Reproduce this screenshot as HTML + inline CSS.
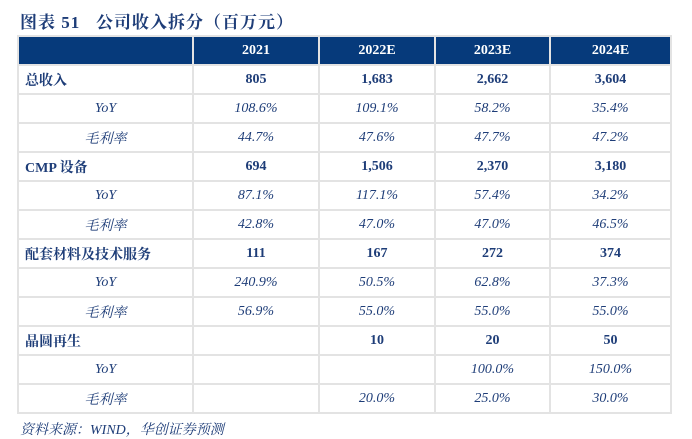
<!DOCTYPE html>
<html><head><meta charset="utf-8"><style>
body{margin:0;width:692px;height:434px;background:#fff;overflow:hidden;font-family:"Liberation Serif","Noto Serif CJK SC",serif;color:#1e3d78;position:relative}
.title{position:absolute;left:20px;top:8px;font-size:17px;font-weight:bold;letter-spacing:1px}
table{position:absolute;left:17px;top:35px;border-collapse:collapse;table-layout:fixed}
td{border:2px solid #e3e3e3;height:27px;padding:0;font-size:14px;text-align:center}
thead td{background:#063a7b;color:#fff;font-weight:bold;border-color:#e3e3e3}
td.l{text-align:left;padding-left:6px;font-weight:bold}
tr.s td{font-style:italic}
tr.b td{font-weight:bold}
.foot{position:absolute;left:20px;top:419px;font-size:14px;font-style:italic}
</style></head><body>
<div class="title">图表 51&nbsp;&nbsp;&nbsp;公司收入拆分（百万元）</div>
<table>
<colgroup><col style="width:175px"><col style="width:126px"><col style="width:116px"><col style="width:115px"><col style="width:121px"></colgroup>
<thead><tr><td></td><td>2021</td><td>2022E</td><td>2023E</td><td>2024E</td></tr></thead>
<tbody>
<tr class="b"><td class="l">总收入</td><td>805</td><td>1,683</td><td>2,662</td><td>3,604</td></tr>
<tr class="s"><td>YoY</td><td>108.6%</td><td>109.1%</td><td>58.2%</td><td>35.4%</td></tr>
<tr class="s"><td>毛利率</td><td>44.7%</td><td>47.6%</td><td>47.7%</td><td>47.2%</td></tr>
<tr class="b"><td class="l">CMP 设备</td><td>694</td><td>1,506</td><td>2,370</td><td>3,180</td></tr>
<tr class="s"><td>YoY</td><td>87.1%</td><td>117.1%</td><td>57.4%</td><td>34.2%</td></tr>
<tr class="s"><td>毛利率</td><td>42.8%</td><td>47.0%</td><td>47.0%</td><td>46.5%</td></tr>
<tr class="b"><td class="l">配套材料及技术服务</td><td>111</td><td>167</td><td>272</td><td>374</td></tr>
<tr class="s"><td>YoY</td><td>240.9%</td><td>50.5%</td><td>62.8%</td><td>37.3%</td></tr>
<tr class="s"><td>毛利率</td><td>56.9%</td><td>55.0%</td><td>55.0%</td><td>55.0%</td></tr>
<tr class="b"><td class="l">晶圆再生</td><td></td><td>10</td><td>20</td><td>50</td></tr>
<tr class="s"><td>YoY</td><td></td><td></td><td>100.0%</td><td>150.0%</td></tr>
<tr class="s"><td>毛利率</td><td></td><td>20.0%</td><td>25.0%</td><td>30.0%</td></tr>
</tbody></table>
<div class="foot">资料来源：WIND，华创证券预测</div>
</body></html>
